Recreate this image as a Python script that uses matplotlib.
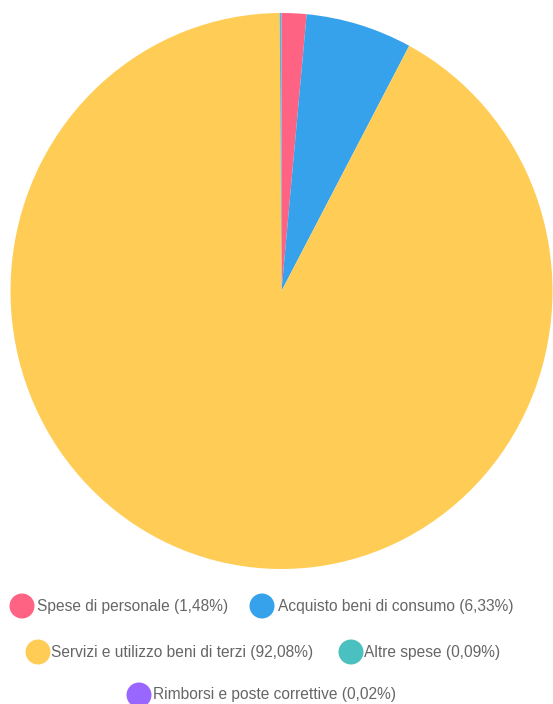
import matplotlib
matplotlib.use('Agg')
import matplotlib.pyplot as plt
from matplotlib.patches import Ellipse

# data
labels = ['Spese di personale', 'Acquisto beni di consumo', 'Servizi e utilizzo beni di terzi',
          'Altre spese', 'Rimborsi e poste correttive']
values = [1.48, 6.33, 92.08, 0.09, 0.02]
value_labels = ['1,48%', '6,33%', '92,08%', '0,09%', '0,02%']
colors = ['#FF6384', '#36A2EB', '#FFCD56', '#4BC0C0', '#9966FF']

W, H = 553, 704
fig = plt.figure(figsize=(W / 100, H / 100), dpi=100)

# pie area (slightly stretched vertically like the reference)
ax = fig.add_axes([10.5 / W, (H - 569) / H, 542 / W, 556 / H])
ax.pie(values, colors=colors, startangle=90, counterclock=False,
       wedgeprops=dict(linewidth=0))
ax.set_aspect('auto')
ax.set_xlim(-1, 1)
ax.set_ylim(-1, 1)
ax.axis('off')

# legend, laid out in rows like the original
legend_pos = [  # (circle x, text x, y) in pixels
    (22, 37, 606),
    (262, 278, 606),
    (38, 51, 652),
    (351, 364, 652),
    (139, 153, 695),
]
for (cx, tx, cy), lab, vl, col in zip(legend_pos, labels, value_labels, colors):
    fig.patches.append(Ellipse((cx / W, 1 - cy / H), 25 / W, 25 / H,
                               transform=fig.transFigure, facecolor=col, edgecolor='none'))
    fig.text(tx / W, 1 - cy / H, f'{lab} ({vl})', ha='left', va='center',
             fontsize=11.2, color='#666666', family='Liberation Sans')

fig.savefig('out.png', dpi=100)
